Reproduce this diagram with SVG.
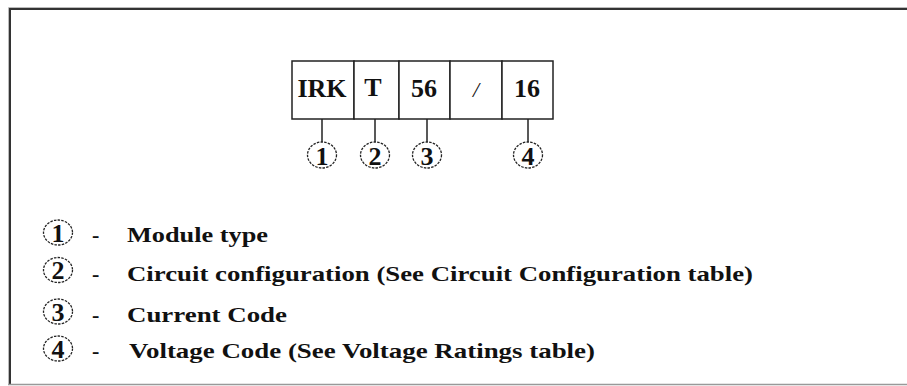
<svg xmlns="http://www.w3.org/2000/svg" width="907" height="386" viewBox="0 0 907 386">
<style>
.t{font-family:"Liberation Serif","Times New Roman",serif;font-weight:bold;fill:#111}
.box{font-size:26px;text-anchor:middle}
.num{font-size:26px;text-anchor:middle}
.leg{font-size:22px}
.cell{fill:#fff;stroke:#222;stroke-width:1.5}
.ring{fill:none;stroke:#222;stroke-width:1.3;stroke-dasharray:2.5 1.2}
.conn{stroke:#222;stroke-width:1.5;fill:none}
</style>
<rect width="907" height="386" fill="#fff"/>
<g id="frame">
<path d="M907,7.5 H8.5 V384" fill="none" stroke="#bbb" stroke-width="1"/>
<path d="M907,9 H10 V384" fill="none" stroke="#333" stroke-width="2"/>
<line x1="8" y1="384.5" x2="907" y2="384.5" stroke="#999" stroke-width="1.5"/>
</g>
<g id="code">
<g id="cell-irk"><rect class="cell" x="292" y="61" width="62" height="58"/><text class="t box" x="322" y="97">IRK</text></g>
<g id="cell-t"><rect class="cell" x="354" y="61" width="45" height="58"/><text class="t box" x="373" y="96">T</text></g>
<g id="cell-56"><rect class="cell" x="399" y="61" width="51" height="58"/><text class="t box" x="424" y="97">56</text></g>
<g id="cell-slash"><rect class="cell" x="450" y="61" width="52" height="58"/><text class="t box" x="476" y="97" style="font-weight:normal;font-style:italic;font-size:22px">/</text></g>
<g id="cell-16"><rect class="cell" x="502" y="61" width="51" height="58"/><text class="t box" x="527" y="97">16</text></g>
</g>
<g id="connectors">
<line class="conn" x1="322" y1="119" x2="322" y2="142"/>
<line class="conn" x1="375" y1="119" x2="375" y2="142"/>
<line class="conn" x1="427" y1="119" x2="427" y2="142"/>
<line class="conn" x1="528" y1="119" x2="528" y2="142"/>
</g>
<g id="n1"><ellipse class="ring" cx="322" cy="155" rx="14.5" ry="13"/><text class="t num" x="322" y="164.5">1</text></g>
<g id="n2"><ellipse class="ring" cx="375" cy="155" rx="14.5" ry="13"/><text class="t num" x="375" y="164.5">2</text></g>
<g id="n3"><ellipse class="ring" cx="427" cy="155" rx="14.5" ry="13"/><text class="t num" x="427" y="164.5">3</text></g>
<g id="n4"><ellipse class="ring" cx="528" cy="155" rx="14.5" ry="13"/><text class="t num" x="528" y="164.5">4</text></g>
<g id="legend">
<g id="leg1"><ellipse class="ring" cx="58" cy="232.5" rx="14.5" ry="12.5"/><text class="t num" x="58" y="241.5">1</text><text class="t leg" x="92" y="242">-</text><text class="t leg" x="127" y="242" textLength="141" lengthAdjust="spacingAndGlyphs">Module type</text></g>
<g id="leg2"><ellipse class="ring" cx="58" cy="270" rx="14.5" ry="12.5"/><text class="t num" x="58" y="279">2</text><text class="t leg" x="92" y="281">-</text><text class="t leg" x="127" y="281" textLength="626" lengthAdjust="spacingAndGlyphs">Circuit configuration (See Circuit Configuration table)</text></g>
<g id="leg3"><ellipse class="ring" cx="58" cy="311.5" rx="14.5" ry="12.5"/><text class="t num" x="58" y="320.5">3</text><text class="t leg" x="92" y="322">-</text><text class="t leg" x="127" y="322" textLength="160" lengthAdjust="spacingAndGlyphs">Current Code</text></g>
<g id="leg4"><ellipse class="ring" cx="58" cy="348.5" rx="14.5" ry="12.5"/><text class="t num" x="58" y="357.5">4</text><text class="t leg" x="92" y="358">-</text><text class="t leg" x="129" y="358" textLength="466" lengthAdjust="spacingAndGlyphs">Voltage Code (See Voltage Ratings table)</text></g>
</g>
</svg>
